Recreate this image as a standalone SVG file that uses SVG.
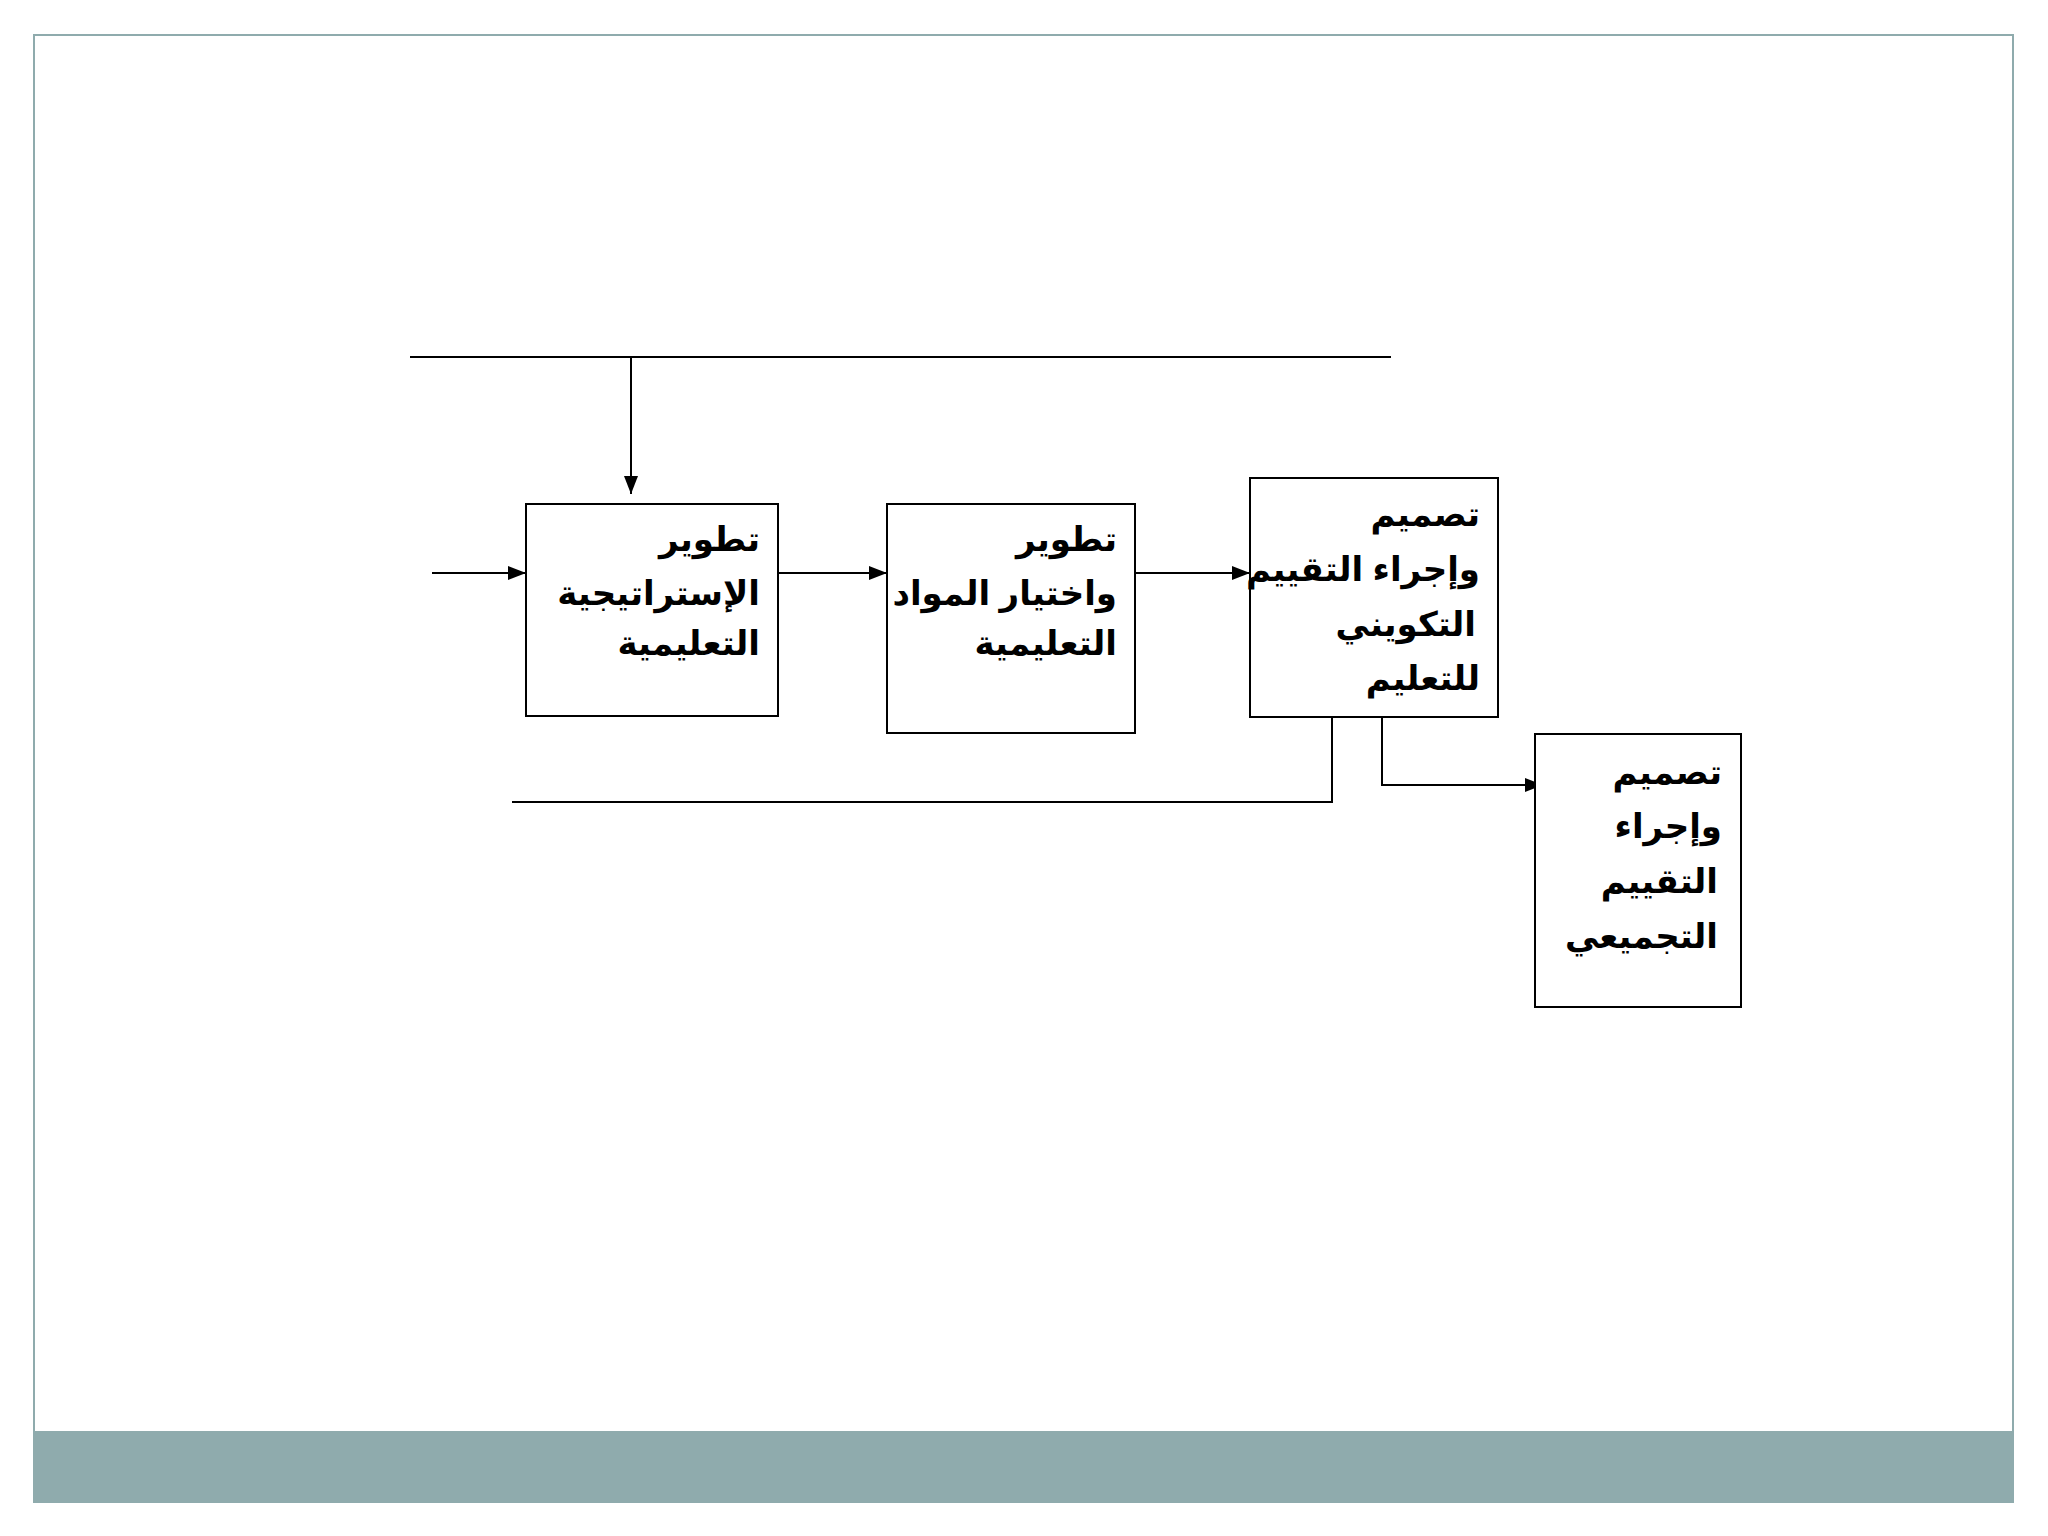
<svg xmlns="http://www.w3.org/2000/svg" width="2048" height="1536" viewBox="0 0 2048 1536">
<defs>
<marker id="ah" markerWidth="10" markerHeight="8" refX="10" refY="4" orient="auto" markerUnits="userSpaceOnUse" viewBox="0 0 10 8"><path d="M0,0 L10,4 L0,8 z" fill="#000"/></marker>
<marker id="ah2" markerWidth="18" markerHeight="14" refX="18" refY="7" orient="auto" markerUnits="userSpaceOnUse" viewBox="0 0 18 14"><path d="M0,0 L18,7 L0,14 z" fill="#000"/></marker>
</defs>
<style>
.box{fill:#fff;stroke:#000;stroke-width:2}
.ln{fill:none;stroke:#000;stroke-width:2}
.t{font-family:"Liberation Sans","DejaVu Sans",sans-serif;font-weight:bold;font-size:34px;fill:#000}
</style>
<rect width="2048" height="1536" fill="#fff"/>
<rect x="34" y="35" width="1979" height="1467" fill="none" stroke="#8fabad" stroke-width="2"/>
<rect x="34" y="1431" width="1979" height="71" fill="#8fabad"/>
<g id="connectors">
<line class="ln" x1="410" y1="357" x2="1391" y2="357"/>
<line class="ln" x1="631" y1="357" x2="631" y2="494" marker-end="url(#ah2)"/>
<line class="ln" x1="432" y1="573" x2="526" y2="573" marker-end="url(#ah2)"/>
<line class="ln" x1="778" y1="573" x2="887" y2="573" marker-end="url(#ah2)"/>
<line class="ln" x1="1135" y1="573" x2="1250" y2="573" marker-end="url(#ah2)"/>
<polyline class="ln" points="1332,717 1332,802 512,802"/>
<polyline class="ln" points="1382,717 1382,785 1543,785" marker-end="url(#ah2)"/>
</g>
<g id="n1"><rect class="box" x="526" y="504" width="252" height="212"/>
<text class="t" direction="rtl" text-anchor="start"><tspan x="760" y="551">تطوير</tspan><tspan x="760" y="605">الإستراتيجية</tspan><tspan x="760" y="655">التعليمية</tspan></text></g>
<g id="n2"><rect class="box" x="887" y="504" width="248" height="229"/>
<text class="t" direction="rtl" text-anchor="start"><tspan x="1117" y="551">تطوير</tspan><tspan x="1117" y="605">واختيار المواد</tspan><tspan x="1117" y="655">التعليمية</tspan></text></g>
<g id="n3"><rect class="box" x="1250" y="478" width="248" height="239"/>
<text class="t" direction="rtl" text-anchor="start"><tspan x="1480" y="526">تصميم</tspan><tspan x="1480" y="581">وإجراء التقييم</tspan><tspan x="1476" y="636">التكويني</tspan><tspan x="1480" y="690">للتعليم</tspan></text></g>
<g id="n4"><rect class="box" x="1535" y="734" width="206" height="273"/>
<text class="t" direction="rtl" text-anchor="start"><tspan x="1722" y="784">تصميم</tspan><tspan x="1722" y="838">وإجراء</tspan><tspan x="1718" y="893">التقييم</tspan><tspan x="1718" y="948">التجميعي</tspan></text></g>
</svg>
